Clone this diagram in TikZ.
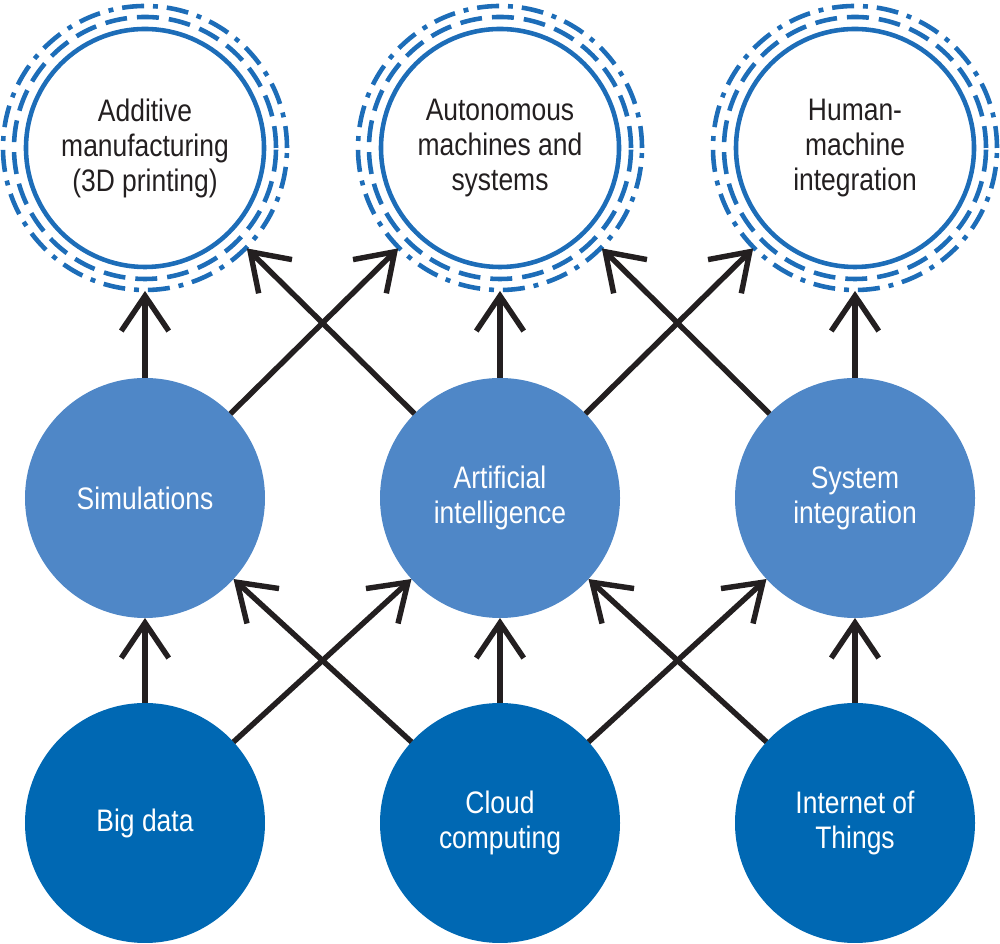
\documentclass[tikz,border=0pt]{standalone}
\usepackage{fontspec}
\setmainfont{Liberation Sans}[FakeStretch=0.85]
\usepackage{tikz}
\usetikzlibrary{positioning,arrows.meta}

\definecolor{deepblue}{HTML}{0068B3}
\definecolor{midblue}{HTML}{4F87C7}
\definecolor{ringblue}{HTML}{1D6DB8}
\definecolor{arrowgray}{HTML}{231F20}
\newcommand{\lbl}{\fontsize{17.7}{19.9}\selectfont}

\begin{document}
\begin{tikzpicture}[
  node distance=1.7cm and 2.3cm,
  base/.style={circle, minimum size=4.8cm, inner sep=0pt, outer sep=0pt,
               align=center, font=\lbl, text=white},
  data/.style={base, fill=deepblue},
  tech/.style={base, fill=midblue},
  goal/.style={circle, minimum size=5.72cm, inner sep=0pt, outer sep=0pt,
               align=center, font=\lbl, text=arrowgray},
  ring/.style={draw=ringblue, line width=2.6pt},
  arrow/.style={-{Straight Barb[length=20pt, width=27pt]}, line width=3.1pt,
                draw=arrowgray}
]
  \useasboundingbox (0,0) rectangle (20,18.88);

  % bottom row
  \node[data] (bd) at (2.9,2.42) {Big data};
  \node[data, right=of bd] (cc) {Cloud\\computing};
  \node[data, right=of cc] (iot) {Internet of\\Things};

  % middle row
  \node[tech, above=of bd] (sim) {Simulations};
  \node[tech, above=of cc] (ai) {Artificial\\intelligence};
  \node[tech, above=of iot] (si) {System\\integration};

  % top row
  \node[goal, above=1.74cm of sim] (am) {Additive\\manufacturing\\(3D printing)};
  \node[goal, above=1.74cm of ai] (ams) {Autonomous\\machines and\\systems};
  \node[goal, above=1.74cm of si] (hmi) {Human-\\machine\\integration};

  \foreach \g in {am,ams,hmi} {
    \draw[ring] (\g.center) circle[radius=2.38cm];
    \draw[ring, dash pattern=on 12.5pt off 5.7pt] (\g.center) circle[radius=2.62cm];
    \draw[ring, dash pattern=on 12.5pt off 5.1pt on 2.8pt off 5.1pt]
      (\g.center) circle[radius=2.84cm];
  }

  \draw[arrow] (bd) -- (sim);
  \draw[arrow] (bd) -- (ai);
  \draw[arrow] (cc) -- (sim);
  \draw[arrow] (cc) -- (ai);
  \draw[arrow] (cc) -- (si);
  \draw[arrow] (iot) -- (ai);
  \draw[arrow] (iot) -- (si);

  \draw[arrow] (sim) -- (am);
  \draw[arrow] (sim) -- (ams);
  \draw[arrow] (ai) -- (am);
  \draw[arrow] (ai) -- (ams);
  \draw[arrow] (ai) -- (hmi);
  \draw[arrow] (si) -- (ams);
  \draw[arrow] (si) -- (hmi);
\end{tikzpicture}
\end{document}
